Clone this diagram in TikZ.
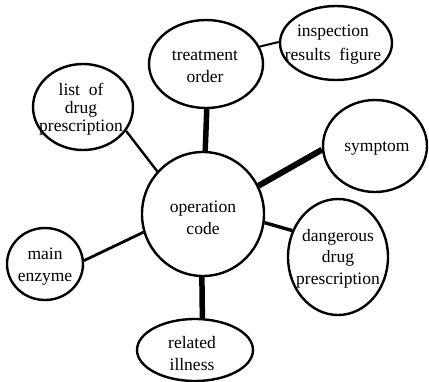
\documentclass[tikz,border=0pt]{standalone}
\usepackage{fontspec}
\setmainfont{Liberation Serif}
\usetikzlibrary{shapes.geometric}
\begin{document}
\begin{tikzpicture}[x=1pt,y=-1pt,
  bub/.style={draw,ellipse,line width=2.4pt,inner sep=0pt},
  txt/.style={inner sep=0pt,align=center,font=\fontsize{17.5}{22}\selectfont},
  link/.style={line width=#1},
]
\useasboundingbox[fill=white] (0,0) rectangle (429,381);
\node[bub,minimum width=122pt,minimum height=124pt] (op) at (203,214) {};
\node[txt] (opt) at (203,217.5) {operation\\code};
\node[bub,minimum width=114pt,minimum height=88pt] (treat) at (206,64) {};
\node[txt] (treatt) at (205,66.5) {treatment\\order};
\node[bub,minimum width=112pt,minimum height=74pt] (insp) at (336,43) {};
\node[txt,font=\fontsize{17.5}{24}\selectfont] (inspt) at (333,45) {inspection\\results\ \ figure};
\node[bub,minimum width=100pt,minimum height=86pt] (list) at (83,107) {};
\node[txt,font=\fontsize{17.5}{18}\selectfont] (listt) at (81,109.5) {list\ \ of\\drug\\prescription};
\node[bub,minimum width=104pt,minimum height=92pt] (symp) at (375,146) {};
\node[txt] (sympt) at (377,148) {symptom};
\node[bub,minimum width=100pt,minimum height=116pt] (dang) at (338,257) {};
\node[txt,font=\fontsize{17.5}{21.5}\selectfont] (dangt) at (338,258.5) {dangerous\\drug\\prescription};
\node[bub,minimum width=76pt,minimum height=72pt] (enz) at (45,264) {};
\node[txt] (enzt) at (45,266.5) {main\\enzyme};
\node[bub,minimum width=116pt,minimum height=62pt] (ill) at (195,350) {};
\node[txt] (illt) at (192,354) {related\\illness};
\draw[link=5.5pt] (op.88) -- (treat.271);
\draw[link=2pt] (treat.18) -- (insp.179);
\draw[link=2.4pt] (op.137.7) -- (list.331);
\draw[link=6pt] (op.27) -- (symp.184);
\draw[link=3.4pt] (op.352) -- (dang.150.6);
\draw[link=2.8pt] (op.197.6) -- (enz.5);
\draw[link=5.5pt] (op.269) -- (ill.77);
\end{tikzpicture}
\end{document}
